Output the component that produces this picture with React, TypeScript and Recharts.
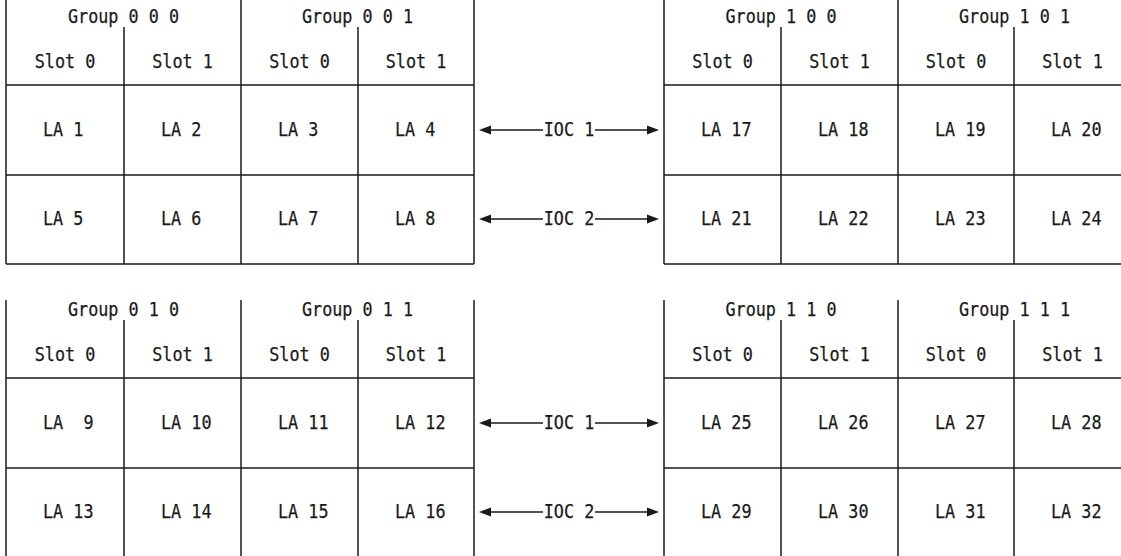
import { ComposedChart, ReferenceLine, Scatter, XAxis, YAxis } from "recharts";

// labels
const topGroups = ["Group 0 0 0", "Group 0 0 1", "Group 1 0 0", "Group 1 0 1"];
const bottomGroups = ["Group 0 1 0", "Group 0 1 1", "Group 1 1 0", "Group 1 1 1"];
const slotNames = ["Slot 0", "Slot 1"];
const topRowsLA = [
  ["LA 1", "LA 2", "LA 3", "LA 4", "LA 17", "LA 18", "LA 19", "LA 20"],
  ["LA 5", "LA 6", "LA 7", "LA 8", "LA 21", "LA 22", "LA 23", "LA 24"],
];
const bottomRowsLA = [
  ["LA  9", "LA 10", "LA 11", "LA 12", "LA 25", "LA 26", "LA 27", "LA 28"],
  ["LA 13", "LA 14", "LA 15", "LA 16", "LA 29", "LA 30", "LA 31", "LA 32"],
];
const iocNames = ["IOC 1", "IOC 2"];

// layout (pixels, identity scales)
const W = 1121;
const H = 556;
const LEFT_COLS = [6, 124, 241, 358, 474];
const RIGHT_COLS = [664, 781, 898, 1014, 1131];
const BLOCK_Y = [0, 293];
const OUTER_TOP = [0, 300];
const INK = "#1a1a1a";
const FONT = "'DejaVu Sans Mono', monospace";
const CHAR_W = 10.1;

interface LabelPoint {
  x: number;
  y: number;
  text: string;
  anchor: "start" | "middle";
}

interface HeadPoint {
  x: number;
  y: number;
  dir: number;
}

function buildLabels() {
  const out: LabelPoint[] = [];
  [topGroups, bottomGroups].forEach((groups, b) => {
    const oy = BLOCK_Y[b];
    const rows = b === 0 ? topRowsLA : bottomRowsLA;
    [LEFT_COLS, RIGHT_COLS].forEach((cols, side) => {
      for (let g = 0; g < 2; g++) {
        const a = cols[g * 2];
        const c = cols[g * 2 + 2];
        out.push({ x: (a + c) / 2, y: oy + 23, text: groups[side * 2 + g], anchor: "middle" });
      }
      for (let i = 0; i < 4; i++) {
        out.push({ x: (cols[i] + cols[i + 1]) / 2, y: oy + 68, text: slotNames[i % 2], anchor: "middle" });
        rows.forEach((row, r) => {
          out.push({ x: cols[i] + 37, y: oy + (r === 0 ? 136 : 225), text: row[side * 4 + i], anchor: "start" });
        });
      }
    });
    iocNames.forEach((name, r) => {
      out.push({ x: 569, y: oy + (r === 0 ? 136 : 225), text: name, anchor: "middle" });
    });
  });
  return out;
}

function buildHeads() {
  const out: HeadPoint[] = [];
  BLOCK_Y.forEach((oy) => {
    [130, 219].forEach((ry) => {
      out.push({ x: 479, y: oy + ry, dir: -1 });
      out.push({ x: 659, y: oy + ry, dir: 1 });
    });
  });
  return out;
}

const labels = buildLabels();
const heads = buildHeads();

function LabelShape(props: any) {
  const { cx, cy, payload } = props;
  return (
    <text
      x={cx}
      y={cy}
      textAnchor={payload.anchor}
      fontFamily={FONT}
      fontSize={19}
      fill={INK}
      stroke={INK}
      strokeWidth={0.25}
      textLength={payload.text.length * CHAR_W}
      lengthAdjust="spacingAndGlyphs"
      style={{ whiteSpace: "pre" }}
    >
      {payload.text}
    </text>
  );
}

function HeadShape(props: any) {
  const { cx, cy, payload } = props;
  const back = cx - payload.dir * 12;
  return <path d={`M${cx},${cy} L${back},${cy - 4.5} L${back},${cy + 4.5} Z`} fill={INK} />;
}

function segments() {
  const segs: { x1: number; y1: number; x2: number; y2: number }[] = [];
  BLOCK_Y.forEach((oy, b) => {
    [LEFT_COLS, RIGHT_COLS].forEach((cols) => {
      const x0 = cols[0];
      const x1 = Math.min(cols[4], W);
      [85, 175, 264].forEach((hy) => {
        if (oy + hy <= H) segs.push({ x1: x0, y1: oy + hy, x2: x1, y2: oy + hy });
      });
      cols.forEach((cx, i) => {
        if (cx > W) return;
        const top = i % 2 === 1 ? oy + 27 : OUTER_TOP[b];
        segs.push({ x1: cx, y1: top, x2: cx, y2: Math.min(oy + 264, H) });
      });
    });
    [130, 219].forEach((ry) => {
      segs.push({ x1: 490, y1: oy + ry, x2: 543, y2: oy + ry });
      segs.push({ x1: 595, y1: oy + ry, x2: 648, y2: oy + ry });
    });
  });
  return segs;
}

export default function App() {
  return (
    <div style={{ width: W, height: H, background: "#fff" }}>
      <style>{"body{margin:0}"}</style>
      <ComposedChart width={W} height={H} margin={{ top: 0, right: 0, bottom: 0, left: 0 }}>
        <XAxis type="number" dataKey="x" domain={[0, W]} hide allowDataOverflow />
        <YAxis type="number" dataKey="y" domain={[0, H]} reversed hide allowDataOverflow />
        {segments().map((s, i) => (
          <ReferenceLine
            key={i}
            segment={[
              { x: s.x1, y: s.y1 },
              { x: s.x2, y: s.y2 },
            ]}
            stroke={INK}
            strokeWidth={1.5}
            ifOverflow="visible"
          />
        ))}
        <Scatter data={heads} shape={HeadShape} isAnimationActive={false} />
        <Scatter data={labels} shape={LabelShape} isAnimationActive={false} />
      </ComposedChart>
    </div>
  );
}
